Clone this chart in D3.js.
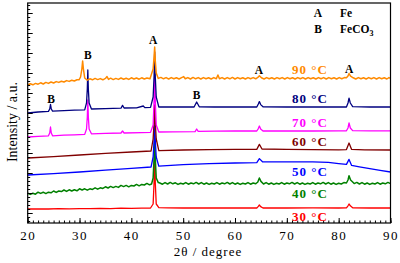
<!DOCTYPE html>
<html><head><meta charset="utf-8">
<script src="https://cdn.jsdelivr.net/npm/d3@7"></script>
<style>body{margin:0;background:#fff}svg{display:block}</style>
</head><body>
<svg id="c" width="400" height="263"></svg>
<script>
// ---------- data (2θ in degrees, intensity in arbitrary units) ----------
const xTicks = [20,30,40,50,60,70,80,90];
const seriesNames = ["30 °C","40 °C","50 °C","60 °C","70 °C","80 °C","90 °C"];
const seriesColors = ["#ff0000","#008000","#0000ff","#800000","#ff00ff","#000080","#ff8a00"];

const s30 = [[20,20],[22,21],[24,20],[26,22],[28,21],[30,22],[32,22],[34,23],[36,22],[38,24],[40,23],[42,24],[43.7,25],[44.2,45],[44.38,150],[44.5,315],[44.62,150],[44.8,45],[45.3,27],[47,26],[50,25],[53,26],[56,25],[60,25],[64.2,25],[64.5,33],[64.7,40],[64.95,32],[65.4,25],[70,25],[75,26],[80,25],[81.5,26],[81.8,36],[82.0,45],[82.25,36],[82.7,26],[86,25],[90,25]];
const s40 = [[20,99],[20.5,93],[21,99],[21.5,94],[22,104],[22.5,98],[23,104],[23.5,97],[24,104],[24.5,101],[25,110],[25.5,103],[26,110],[26.5,107],[27,115],[27.5,108],[28,116],[28.5,110],[29,116],[29.5,111],[30,121],[30.5,115],[31,121],[31.5,114],[32,121],[32.5,118],[33,126],[33.5,119],[34,126],[34.5,123],[35,131],[35.5,125],[36,133],[36.5,127],[37,133],[37.5,128],[38,138],[38.5,132],[39,138],[39.5,131],[40,138],[40.5,135],[41,143],[41.5,136],[42,143],[42.5,140],[43,148],[43.5,141],[43.9,145],[44.2,175],[44.38,270],[44.5,365],[44.62,270],[44.8,175],[45.2,152],[45.5,150],[46,144],[46.5,152],[47,145],[47.5,153],[48,146],[48.5,151],[49,143],[49.5,149],[50,145],[50.5,152],[51,144],[51.5,150],[52,146],[52.5,153],[53,145],[53.5,152],[54,144],[54.5,150],[55,143],[55.5,149],[56,145],[56.5,152],[57,144],[57.5,150],[58,146],[58.5,153],[59,145],[59.5,152],[60,144],[60.5,150],[61,143],[61.5,149],[62,145],[62.5,152],[63,144],[63.5,150],[64,146],[64.4,155],[64.7,175],[65.0,158],[65.5,145],[66,152],[66.5,144],[67,150],[67.5,143],[68,149],[68.5,145],[69,152],[69.5,144],[70,150],[70.5,146],[71,153],[71.5,145],[72,152],[72.5,144],[73,150],[73.5,143],[74,149],[74.5,145],[75,152],[75.5,144],[76,150],[76.5,146],[77,153],[77.5,145],[78,152],[78.5,144],[79,150],[79.5,143],[80,149],[80.5,145],[81,152],[81.5,150],[81.8,165],[82.0,186],[82.3,165],[82.7,155],[83,147],[83.5,153],[84,145],[84.5,152],[85,144],[85.5,150],[86,143],[86.5,149],[87,145],[87.5,152],[88,144],[88.5,150],[89,146],[89.5,153],[90,147]];
const s50 = [[20,190],[25,197],[30,205],[35,214],[40,223],[43.8,230],[44.2,280],[44.38,360],[44.5,440],[44.62,360],[44.8,280],[45.3,234],[50,242],[55,247],[60,250],[64.2,252],[64.7,272],[65.3,256],[70,256],[75,256],[78,253],[80,247],[81.5,243],[82.0,268],[82.5,238],[84,231],[86,222],[88,213],[90,205]];
const s60 = [[20,275],[25,282],[30,290],[35,298],[40,305],[43.8,310],[44.2,370],[44.38,450],[44.5,540],[44.62,450],[44.8,370],[45.3,312],[50,315],[55,317],[60,318],[64.2,318],[64.7,343],[65.2,320],[70,318],[75,317],[80,316],[81.5,317],[82.0,350],[82.5,318],[85,316],[90,315]];
const s70 = [[20,380],[22,383],[24.0,386],[24.25,400],[24.4,430],[24.55,400],[24.8,386],[27,389],[29,391],[31.0,393],[31.35,420],[31.5,480],[31.6,565],[31.7,480],[31.85,420],[32.3,396],[35,398],[38.0,400],[38.3,410],[38.6,400],[42,402],[43.7,403],[44.2,440],[44.38,560],[44.5,690],[44.62,560],[44.8,440],[45.3,405],[48,406],[52.3,407],[52.6,420],[52.9,408],[56,409],[60,410],[64.2,410],[64.5,422],[64.7,435],[64.95,420],[65.4,410],[70,410],[75,410],[80,411],[81.5,411],[81.8,425],[82.0,450],[82.25,425],[82.7,412],[86,411],[90,411]];
const s80 = [[20,500],[22,505],[24.0,508],[24.25,520],[24.4,543],[24.55,520],[24.8,509],[27,512],[29,514],[31.0,516],[31.35,550],[31.5,620],[31.6,715],[31.7,620],[31.85,550],[32.3,520],[35,522],[38.0,524],[38.3,538],[38.6,525],[41,526],[42.3,535],[42.6,527],[43.7,528],[44.2,580],[44.38,680],[44.5,805],[44.62,680],[44.8,580],[45.3,530],[48,530],[52.1,530],[52.6,555],[53.1,531],[56,530],[60,530],[64.2,530],[64.5,545],[64.7,557],[64.95,542],[65.4,531],[70,530],[75,530],[80,530],[81.5,530],[81.8,550],[82.0,574],[82.25,550],[82.7,532],[86,530],[90,530]];
const s90 = [[20,640],[20.5,646],[21,641],[21.5,648],[22,644],[22.5,651],[23,645],[23.5,653],[24,648],[24.5,655],[25,650],[25.5,657],[26,653],[26.5,659],[27,655],[27.5,662],[28,658],[28.5,664],[29,660],[29.5,666],[29.9,666],[30.2,680],[30.45,720],[30.6,760],[30.75,720],[31.0,675],[31.5,664],[32,671],[32.5,666],[33,673],[33.5,667],[34,672],[34.5,666],[35,673],[35.3,682],[35.6,668],[36,674],[36.5,667],[37,673],[37.5,668],[38,675],[38.5,669],[39,674],[39.5,668],[40,676],[40.5,670],[41,675],[41.5,669],[42,676],[42.5,670],[43,675],[43.6,671],[44.2,720],[44.38,780],[44.5,830],[44.62,760],[44.8,700],[45.2,673],[45.7,678],[46.2,671],[46.7,677],[47.2,670],[47.7,677],[48.2,671],[48.7,676],[49.2,670],[49.7,677],[50.1,682],[50.4,671],[50.9,677],[51.4,670],[51.9,678],[52.4,671],[52.9,677],[53.4,670],[53.9,677],[54.4,671],[54.9,676],[55.4,670],[55.9,677],[56.4,671],[56.7,690],[57,671],[57.5,677],[58,670],[58.5,677],[59,671],[59.5,678],[60,670],[60.5,677],[61,671],[61.5,676],[62,670],[62.5,677],[63,671],[63.5,677],[64,671],[64.4,678],[64.7,686],[65.1,676],[65.6,670],[66.1,677],[66.6,671],[67.1,676],[67.6,670],[68.1,677],[68.6,671],[69.1,677],[69.6,670],[70.1,677],[70.6,671],[71.1,676],[71.6,670],[72.1,677],[72.6,671],[73.1,677],[73.6,670],[74.1,677],[74.6,671],[75.1,676],[75.6,670],[76.1,677],[76.6,671],[77.1,677],[77.6,670],[78.1,677],[78.6,671],[79.1,676],[79.6,670],[80.1,677],[80.6,671],[81.1,677],[81.5,676],[81.8,685],[82.0,697],[82.3,684],[82.8,676],[83.3,670],[83.8,677],[84.3,671],[84.8,676],[85.3,670],[85.8,677],[86.3,671],[86.8,677],[87.3,670],[87.8,677],[88.3,671],[88.8,676],[89.3,670],[89.7,677],[90,673]];
const seriesData = [s30,s40,s50,s60,s70,s80,s90];

// ---------- chart ----------
const svg = d3.select("#c");
const L = 27.7, R = 390.5, T = 3, B = 223;
const x = d3.scaleLinear().domain([20,90]).range([L,R]);
const y = d3.scaleLinear().domain([-50,1050]).range([B,T]);
const serif = "'Liberation Serif','Times New Roman',serif";

// curves (lowest first)
const line = d3.line().x(d=>x(d[0])).y(d=>y(d[1]));
seriesData.forEach((s,i)=>{
  svg.append("path").datum(s).attr("d",line).attr("fill","none")
    .attr("stroke",seriesColors[i])
    .attr("stroke-width",(i===1||i===6)?1.5:1.3)
    .attr("stroke-linejoin","round");
});

// axes
const gx = svg.append("g").attr("transform",`translate(0,${B})`);
gx.call(d3.axisBottom(x).tickValues(d3.range(20,91,1)).tickSize(-2.5).tickFormat(""));
gx.append("g").call(d3.axisBottom(x).tickValues(xTicks).tickSize(-5).tickPadding(8).tickFormat(d3.format("d")));
gx.selectAll("path.domain").remove();
gx.selectAll("text").attr("font-family",serif).attr("font-size",13).attr("fill","#000")
  .style("letter-spacing","1.5px");

const gy = svg.append("g").attr("transform",`translate(${L},0)`);
gy.call(d3.axisLeft(y).tickValues(d3.range(-40,1041,20)).tickSize(-2.5).tickFormat(""));
gy.append("g").call(d3.axisLeft(y).tickValues(d3.range(0,1001,100)).tickSize(-5).tickFormat(""));
gy.selectAll("path.domain").remove();
svg.selectAll(".tick line").attr("stroke","#000").attr("stroke-width",1);

svg.append("rect").attr("x",L).attr("y",T).attr("width",R-L).attr("height",B-T)
  .attr("fill","none").attr("stroke","#000").attr("stroke-width",1.2);

// axis titles
svg.append("text").attr("x",208).attr("y",256).attr("text-anchor","middle")
  .attr("font-family",serif).attr("font-size",13).style("letter-spacing","1px").text("2θ / degree");
svg.append("text").attr("transform","translate(17,122) rotate(-90)").attr("text-anchor","middle")
  .attr("font-family",serif).attr("font-size",14).text("Intensity / a.u.");

// peak annotations
function lab(t,tx,ty,anchor){
  return svg.append("text").attr("x",x(tx)).attr("y",y(ty)).attr("text-anchor",anchor||"middle")
    .attr("font-family",serif).attr("font-weight","bold").attr("font-size",11.5).attr("fill","#000").text(t);
}
lab("A",44.2,845); lab("B",31.6,770); lab("B",24.5,550); lab("B",52.6,570);
lab("A",64.6,695); lab("A",82.0,700);

// legend
lab("A",x.invert(318),y.invert(17));
lab("B",x.invert(318),y.invert(33));
lab("Fe",x.invert(340),y.invert(17),"start");
const fe = lab("FeCO",x.invert(340),y.invert(33),"start");
fe.append("tspan").attr("font-size",8).attr("dy",3).text("3");

// temperature labels
const tempY = [221,198,176,146,127,103,74];
seriesNames.forEach((n,i)=>{
  svg.append("text").attr("x",x(71.0)).attr("y",tempY[i])
    .attr("font-family",serif).attr("font-weight","bold").attr("font-size",13)
    .style("letter-spacing","1px").attr("fill",seriesColors[i]).text(n);
});
</script>
</body></html>
